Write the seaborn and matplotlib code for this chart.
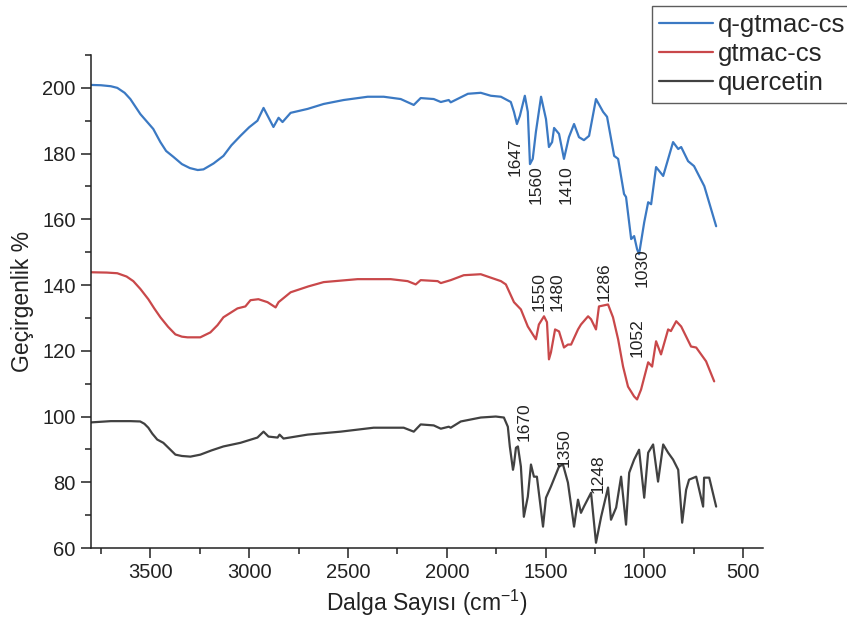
import numpy as np
import pandas as pd
import matplotlib
matplotlib.use("Agg")
import matplotlib.pyplot as plt
import seaborn as sns

# ---------------- data ----------------
series_names = ["q-gtmac-cs", "gtmac-cs", "quercetin"]

q_wn = [3804, 3750, 3700, 3667, 3630, 3601, 3550, 3485, 3449, 3420, 3383, 3340, 3300, 3260,
        3231, 3180, 3130, 3090, 3044, 3000, 2958, 2927, 2877, 2851,
        2831, 2790, 2704, 2623, 2522, 2400, 2319, 2233, 2167, 2132, 2066, 2030, 1990, 1980,
        1893, 1828, 1777, 1726, 1676, 1660, 1645, 1630, 1605, 1590, 1579, 1565, 1549, 1523,
        1498, 1483, 1467, 1457, 1432, 1407, 1382, 1356, 1331, 1306, 1280, 1245, 1209, 1189,
        1153, 1133, 1103, 1093, 1067, 1052, 1037, 1027, 1001, 981, 966, 941, 905, 855, 829,
        814, 779, 749, 697, 637]
q_tr = [200.9, 200.8, 200.5, 200.0, 198.5, 196.6, 192.0, 187.5, 183.5, 180.8, 179.0, 176.8,
        175.6, 175.0, 175.2, 177.0, 179.3, 182.5, 185.4, 188.0, 190.0, 193.9,
        188.1, 190.9, 189.6, 192.4, 193.6, 195.1, 196.3, 197.3, 197.3, 196.6, 194.8, 196.9,
        196.6, 195.7, 196.3, 195.6, 198.2, 198.5, 197.6, 197.3, 195.7, 192.7, 189.0, 191.5,
        197.6, 192.7, 176.8, 178.4, 186.6, 197.3, 190.5, 182.0, 183.5, 187.8, 186.0, 178.4,
        185.0, 189.0, 185.0, 184.1, 185.4, 196.6, 192.7, 191.2, 179.3, 178.4, 167.7, 166.8,
        154.0, 154.9, 150.9, 149.4, 159.1, 165.2, 164.6, 175.9, 173.2, 183.5, 181.4, 182.0,
        177.7, 176.2, 170.1, 157.9]

g_wn = [3804, 3720, 3667, 3620, 3586, 3550, 3510, 3480, 3449, 3410, 3373, 3340, 3312, 3247,
        3196, 3160, 3130, 3059, 3019, 2993, 2953,
        2907, 2866, 2851, 2790, 2700, 2623, 2451, 2284, 2198, 2157, 2132, 2046, 2030, 1980, 1914,
        1828, 1726, 1701, 1660, 1625, 1590, 1549, 1534, 1508, 1493, 1483, 1473, 1452, 1432,
        1407, 1387, 1371, 1336, 1321, 1285, 1270, 1245, 1230, 1184, 1159, 1133, 1108, 1083,
        1052, 1037, 1017, 981, 961, 941, 916, 880, 866, 839, 814, 764, 738, 688, 647]
g_tr = [143.9, 143.8, 143.6, 142.6, 141.2, 138.8, 135.7, 132.9, 130.2, 127.3, 125.0, 124.3,
        124.1, 124.1, 125.6, 127.8, 130.2, 132.9, 133.5,
        135.4, 135.7, 134.8, 133.2, 134.8, 137.8, 139.6, 140.9, 141.8, 141.8, 141.2, 140.2, 141.5,
        141.2, 140.6, 141.5, 143.0, 143.3, 141.2, 140.2, 134.8, 132.6, 127.4, 123.5, 128.0,
        130.5, 128.7, 117.4, 119.5, 126.5, 125.9, 121.0, 121.9, 121.9, 126.5, 128.0, 130.5,
        129.6, 126.5, 133.5, 134.1, 130.2, 123.5, 115.2, 109.1, 106.1, 105.2, 108.2, 116.5,
        115.2, 122.9, 118.9, 126.5, 126.0, 129.0, 127.4, 121.3, 121.0, 116.8, 110.7]

k_wn = [3804, 3700, 3600, 3551, 3530, 3510, 3490, 3465, 3434, 3400, 3373, 3340, 3297, 3247,
        3190, 3130, 3044, 2958, 2927, 2902,
        2856, 2846, 2826, 2704, 2537, 2370, 2218, 2167, 2132, 2066, 2030, 1990, 1980, 1929,
        1828, 1752, 1711, 1691, 1681, 1665, 1660, 1650, 1640, 1625, 1610, 1590, 1574, 1559,
        1544, 1513, 1498, 1473, 1432, 1412, 1387, 1356, 1336, 1321, 1306, 1270, 1245, 1219,
        1184, 1169, 1143, 1118, 1093, 1077, 1052, 1027, 1001, 981, 956, 931, 905, 880, 855,
        829, 809, 789, 774, 738, 703, 698, 672, 637]
k_tr = [98.2, 98.6, 98.6, 98.5, 97.8, 96.6, 94.8, 93.0, 92.0, 90.0, 88.4, 88.0, 87.8, 88.4,
        89.7, 90.9, 92.0, 93.6, 95.4, 93.9,
        93.6, 94.5, 93.3, 94.5, 95.4, 96.6, 96.6, 95.4, 97.6, 97.3, 96.3, 96.9, 96.6, 98.5,
        99.7, 100.0, 99.7, 96.9, 90.9, 83.8, 85.4, 90.5, 90.9, 84.8, 69.5, 75.6, 85.4, 81.7,
        81.7, 66.5, 75.3, 78.7, 84.8, 85.4, 79.9, 66.5, 74.7, 70.7, 72.6, 76.8, 61.6, 69.5,
        78.4, 68.6, 72.3, 81.7, 67.1, 82.9, 86.9, 89.9, 75.3, 89.0, 91.5, 80.2, 91.5, 89.0,
        86.9, 83.8, 67.7, 77.7, 80.8, 81.7, 72.6, 81.4, 81.4, 72.6]

# peak annotations
peak_labels = ["1647", "1560", "1410", "1030", "1550", "1480", "1286", "1052",
               "1670", "1350", "1248"]
peak_label_wn = [1655, 1550, 1395, 1010, 1535, 1440, 1204, 1037, 1610, 1407, 1235]
peak_label_tr = [179.0, 170.7, 170.7, 145.4, 138.1, 138.1, 141.0, 124.0, 98.5, 90.5, 82.6]

x_ticks = [3500, 3000, 2500, 2000, 1500, 1000, 500]

# ---------------- build table ----------------
frames = []
for name, wn, tr in zip(series_names, [q_wn, g_wn, k_wn], [q_tr, g_tr, k_tr]):
    frames.append(pd.DataFrame({"wn": wn, "tr": tr, "sample": name}))
df = pd.concat(frames, ignore_index=True)

# ---------------- styling ----------------
sns.set_theme(style="ticks")
plt.rcParams["font.family"] = ["Liberation Sans", "DejaVu Sans"]
plt.rcParams["mathtext.fontset"] = "custom"
plt.rcParams["mathtext.rm"] = "Liberation Sans"
plt.rcParams["mathtext.it"] = "Liberation Sans"

palette = {"q-gtmac-cs": "#3b79c3", "gtmac-cs": "#c9484a", "quercetin": "#414141"}

fig = plt.figure(figsize=(8.47, 6.19), dpi=100)
ax = fig.add_axes([91 / 847, 1 - 548 / 619, (763 - 91) / 847, (548 - 55) / 619])

sns.lineplot(data=df, x="wn", y="tr", hue="sample", hue_order=series_names,
             palette=palette, sort=False, estimator=None,
             linewidth=1.6, ax=ax, legend=False)

handles = [plt.Line2D([], [], color=palette[n], lw=1.6) for n in series_names]
leg = fig.legend(handles, series_names, loc="upper left",
                 bbox_to_anchor=(652 / 847, 1 - 6 / 619), bbox_transform=fig.transFigure,
                 borderaxespad=0, fontsize=18.5, frameon=True, fancybox=False,
                 handlelength=2.1, handletextpad=0.2, labelspacing=0.2,
                 borderpad=0.28)
leg.get_frame().set_edgecolor("#333333")
leg.get_frame().set_linewidth(1.0)

for lab, wx, ty in zip(peak_labels, peak_label_wn, peak_label_tr):
    ax.text(wx, ty, lab, rotation=90, ha="center", va="center", fontsize=12.5,
            color="#222222")

ax.set_xlim(3800, 400)
ax.set_ylim(60, 210)
ax.set_xticks(x_ticks)
ax.set_xticks(np.arange(3750, 400, -500), minor=True)
ax.set_yticks(np.arange(60, 201, 20))
ax.set_yticks(np.arange(70, 211, 20), minor=True)
ax.tick_params(axis="both", which="major", direction="out", length=7, width=1.1,
               labelsize=14.5, color="#222222", labelcolor="#222222", pad=4)
ax.tick_params(axis="both", which="minor", direction="out", length=4, width=1.1,
               color="#222222")
sns.despine(ax=ax)
for sp in ["left", "bottom"]:
    ax.spines[sp].set_linewidth(1.1)
    ax.spines[sp].set_color("#222222")

ax.set_xlabel("Dalga Sayısı (cm$^{-1}$)", fontsize=16.5, color="#222222", labelpad=4)
ax.set_ylabel("Geçirgenlik %", fontsize=16.5, color="#222222", labelpad=6)

fig.savefig("out.png", dpi=100)
